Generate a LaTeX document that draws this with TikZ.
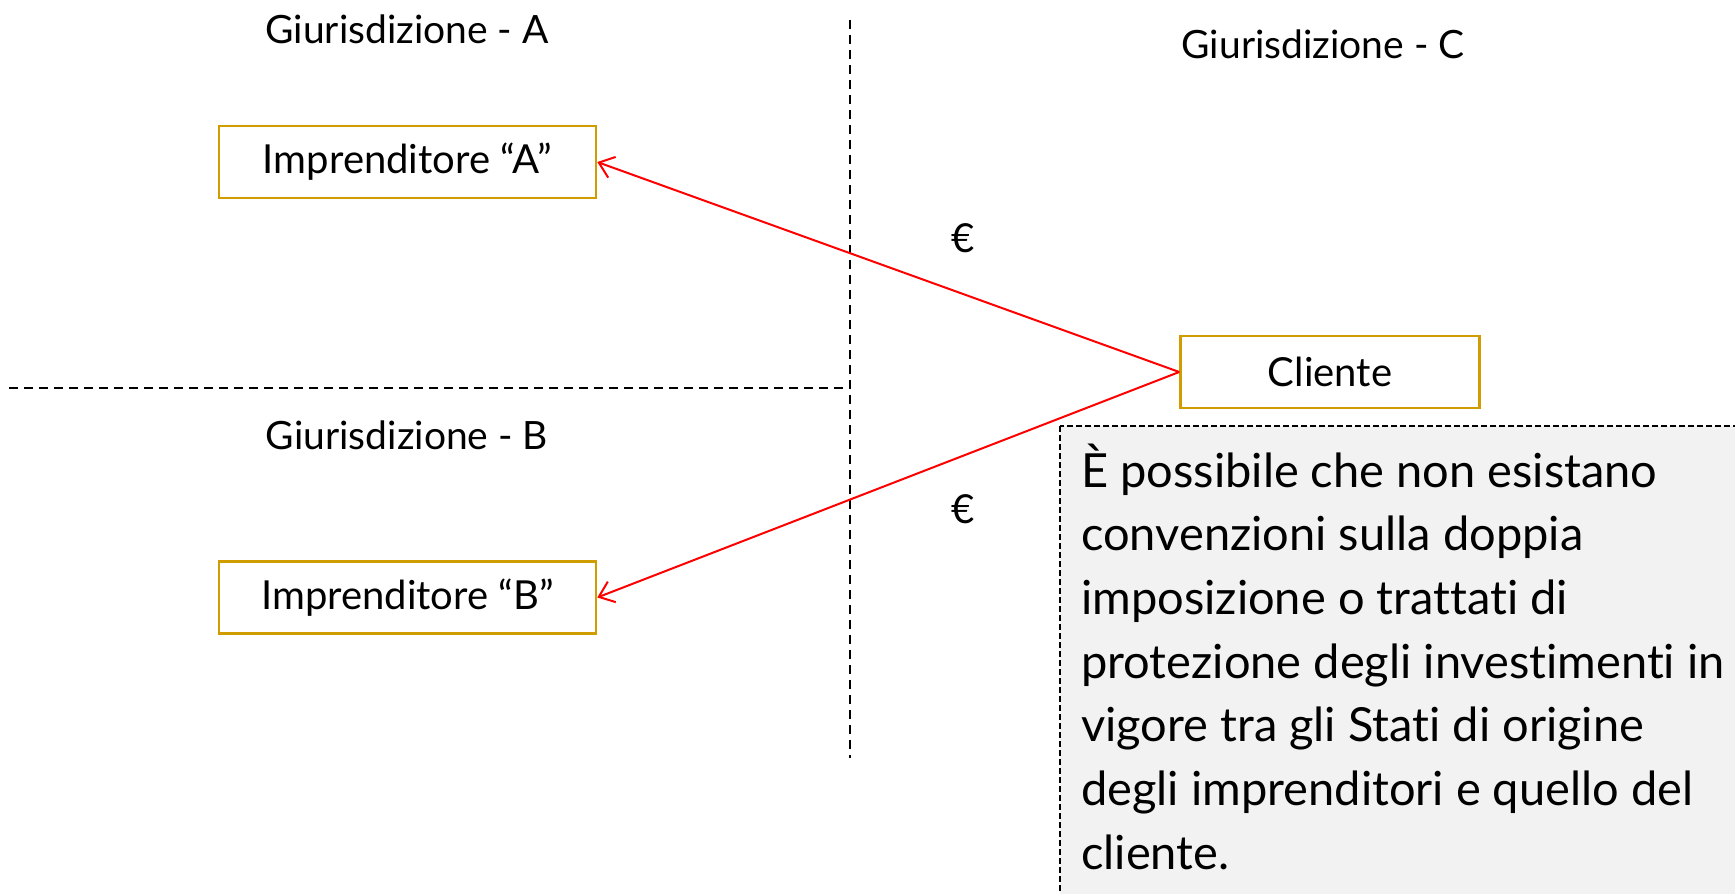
\documentclass[tikz,border=0pt]{standalone}
\usepackage{fontspec}
\setmainfont{Lato}[Ligatures={NoCommon}]
\usetikzlibrary{arrows.meta}
\definecolor{boxgold}{RGB}{208,156,0}
\definecolor{notegray}{RGB}{242,242,242}
\definecolor{arrowred}{RGB}{255,0,0}
\begin{document}
\begin{tikzpicture}[x=1pt,y=-1pt,
  entity/.style={draw=boxgold, line width=2.5pt, fill=white, minimum height=72pt, inner sep=0pt, font=\fontsize{40}{48}\selectfont},
  jurlabel/.style={inner sep=0pt, font=\fontsize{39}{46}\selectfont},
  divider/.style={draw=black, line width=2pt, dash pattern=on 9pt off 6pt},
  flow/.style={draw=arrowred, line width=2pt, -{Straight Barb[length=14pt,width=22pt]}},
  euro/.style={inner sep=0pt, font=\fontsize{40}{48}\selectfont},
  notebox/.style={draw=black, fill=notegray, line width=1.5pt, dash pattern=on 6pt off 3pt}
]
\useasboundingbox (0,0) rectangle (1735,894);

% jurisdiction dividers
\coordinate (vtop) at (850,20);
\coordinate (vbot) at (850,758);
\coordinate (hleft) at (9,388);
\coordinate (hright) at (850,388);
\draw[divider] (vtop) -- (vbot);
\draw[divider] (hleft) -- (hright);

% jurisdiction labels
\node[jurlabel] (jurA) at (407,29) {Giurisdizione - A};
\node[jurlabel] (jurB) at (407,435) {Giurisdizione - B};
\node[jurlabel] (jurC) at (1323,44) {Giurisdizione - C};

% note box
\path[notebox] (1060,426) rectangle (1745,904);
\node[anchor=base west, inner sep=0pt, font=\fontsize{47}{63.7}\selectfont] (note) at (1081,487)
  {\parbox[t]{700pt}{\raggedright È possibile che non esistano\\
  convenzioni sulla doppia\\
  imposizione o trattati di\\
  protezione degli investimenti in\\
  vigore tra gli Stati di origine\\
  degli imprenditori e quello del\\
  cliente.}};

% entities
\node[entity, minimum width=377pt] (impA) at (407.5,162) {Imprenditore “A”};
\node[entity, minimum width=377pt] (impB) at (407.5,597.5) {Imprenditore “B”};
\node[entity, minimum width=299pt] (cliente) at (1330,372) {Cliente};

% flows
\draw[flow] (cliente.west) -- (impA.east);
\draw[flow] (cliente.west) -- (impB.east);
\node[euro] (euroA) at (963,238) {€};
\node[euro] (euroB) at (963,509) {€};
\end{tikzpicture}
\end{document}
